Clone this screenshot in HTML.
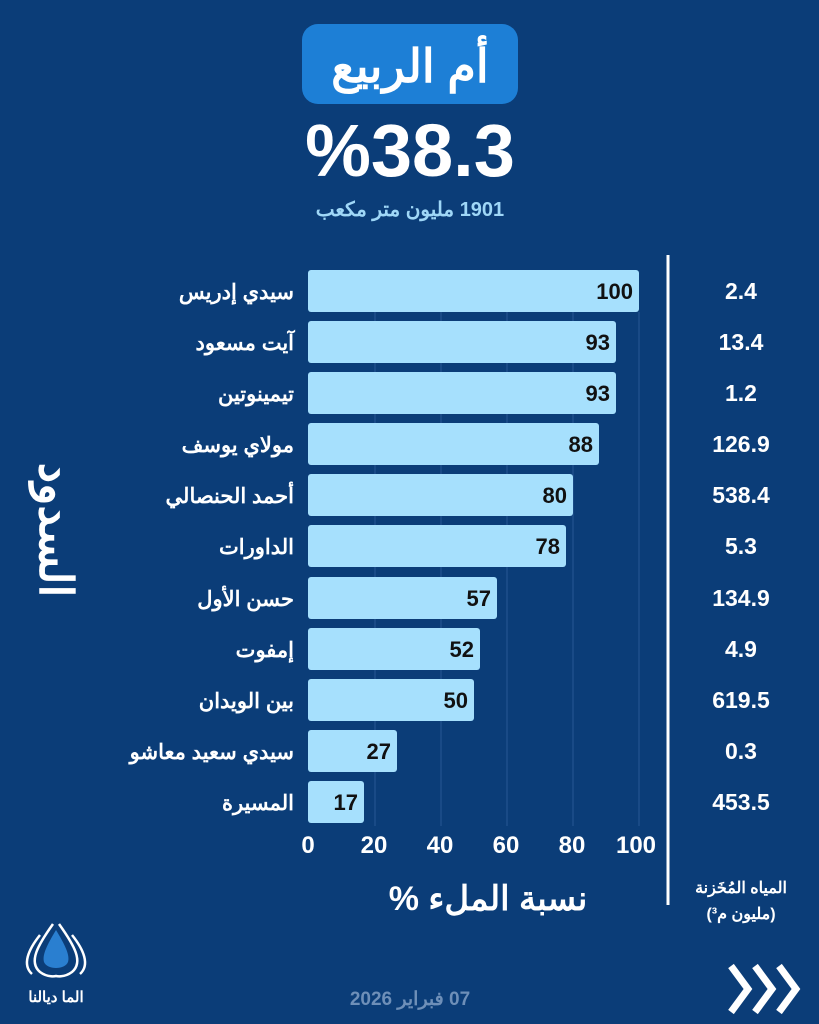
<!DOCTYPE html>
<html><head><meta charset="utf-8"><style>
html,body{margin:0;padding:0;background:#0b3d78;}
svg{display:block}
text{font-family:"Liberation Sans","Noto Sans CJK SC",sans-serif;font-weight:bold}
.rtl{direction:rtl;unicode-bidi:embed}
</style></head><body>
<svg width="819" height="1024" viewBox="0 0 819 1024" xmlns="http://www.w3.org/2000/svg">
<rect width="819" height="1024" fill="#0b3d78"/>
<rect x="302" y="24" width="216" height="80" rx="16" fill="#1d7fd6"/>
<text x="410" y="82" text-anchor="middle" fill="#fff" font-size="46">أم الربيع</text>
<text x="410" y="176" text-anchor="middle" fill="#fff" font-size="74">%38.3</text>
<text class="rtl" x="410" y="216" text-anchor="middle" fill="#9fd7f7" font-size="20">1901 مليون متر مكعب</text>
<g stroke="#1e4f8a" stroke-width="1.5">
<line x1="375" y1="312" x2="375" y2="826"/><line x1="441" y1="312" x2="441" y2="826"/><line x1="507" y1="312" x2="507" y2="826"/><line x1="573" y1="312" x2="573" y2="826"/><line x1="639" y1="312" x2="639" y2="826"/>
</g>
<line x1="668" y1="255" x2="668" y2="905" stroke="#fff" stroke-width="3"/>
<text transform="translate(40,530) rotate(90)" text-anchor="middle" fill="#fff" font-size="46">السدود</text>
<g fill="#a6e0fd">
<rect x="308" y="270" width="331" height="42" rx="3"/>
<rect x="308" y="321" width="308" height="42" rx="3"/>
<rect x="308" y="372" width="308" height="42" rx="3"/>
<rect x="308" y="423" width="291" height="42" rx="3"/>
<rect x="308" y="474" width="265" height="42" rx="3"/>
<rect x="308" y="525" width="258" height="42" rx="3"/>
<rect x="308" y="577" width="189" height="42" rx="3"/>
<rect x="308" y="628" width="172" height="42" rx="3"/>
<rect x="308" y="679" width="166" height="42" rx="3"/>
<rect x="308" y="730" width="89" height="42" rx="3"/>
<rect x="308" y="781" width="56" height="42" rx="3"/>
</g>
<g font-size="22" fill="#111" text-anchor="end">
<text x="633" y="299">100</text><text x="610" y="350">93</text><text x="610" y="401">93</text><text x="593" y="452">88</text><text x="567" y="503">80</text><text x="560" y="554">78</text><text x="491" y="606">57</text><text x="474" y="657">52</text><text x="468" y="708">50</text><text x="391" y="759">27</text><text x="358" y="810">17</text>
</g>
<g font-size="21" fill="#fff" text-anchor="end">
<text x="294" y="299">سيدي إدريس</text><text x="294" y="350">آيت مسعود</text><text x="294" y="401">تيمينوتين</text><text x="294" y="452">مولاي يوسف</text><text x="294" y="503">أحمد الحنصالي</text><text x="294" y="554">الداورات</text><text x="294" y="606">حسن الأول</text><text x="294" y="657">إمفوت</text><text x="294" y="708">بين الويدان</text><text x="294" y="759">سيدي سعيد معاشو</text><text x="294" y="810">المسيرة</text>
</g>
<g font-size="23" fill="#fff" text-anchor="middle">
<text x="741" y="299">2.4</text><text x="741" y="350">13.4</text><text x="741" y="401">1.2</text><text x="741" y="452">126.9</text><text x="741" y="503">538.4</text><text x="741" y="554">5.3</text><text x="741" y="606">134.9</text><text x="741" y="657">4.9</text><text x="741" y="708">619.5</text><text x="741" y="759">0.3</text><text x="741" y="810">453.5</text>
</g>
<g font-size="24" fill="#fff" text-anchor="middle" font-weight="normal">
<text x="308" y="853">0</text><text x="374" y="853">20</text><text x="440" y="853">40</text><text x="506" y="853">60</text><text x="572" y="853">80</text><text x="636" y="853">100</text>
</g>
<text class="rtl" x="488" y="910" text-anchor="middle" fill="#fff" font-size="34">نسبة الملء %</text>
<text x="741" y="893" text-anchor="middle" fill="#fff" font-size="16">المياه المُخَزنة</text>
<text class="rtl" x="741" y="919" text-anchor="middle" fill="#fff" font-size="16">(مليون م³)</text>
<g fill="none" stroke="#fff" stroke-width="2.5">
<path d="M53 924 C38 945 28 962 40 972 C48 978 56 976 56 976 C56 976 64 978 72 972 C84 962 74 945 59 924"/>
<path d="M40 935 C28 950 22 965 32 974"/><path d="M72 935 C84 950 90 965 80 974"/>
</g>
<path d="M56 930 C47 945 42 955 44 962 C47 970 65 970 68 962 C70 955 65 945 56 930Z" fill="#2a7fd0"/>
<text x="56" y="1002" text-anchor="middle" fill="#fff" font-size="15">الما ديالنا</text>
<text class="rtl" x="410" y="1005" text-anchor="middle" fill="#6e8fb8" font-size="19">07 فبراير 2026</text>
<g fill="none" stroke="#fff" stroke-width="7">
<path d="M731 966 L748 989 L731 1012"/><path d="M755 966 L772 989 L755 1012"/><path d="M779 966 L796 989 L779 1012"/>
</g>
</svg>
</body></html>
